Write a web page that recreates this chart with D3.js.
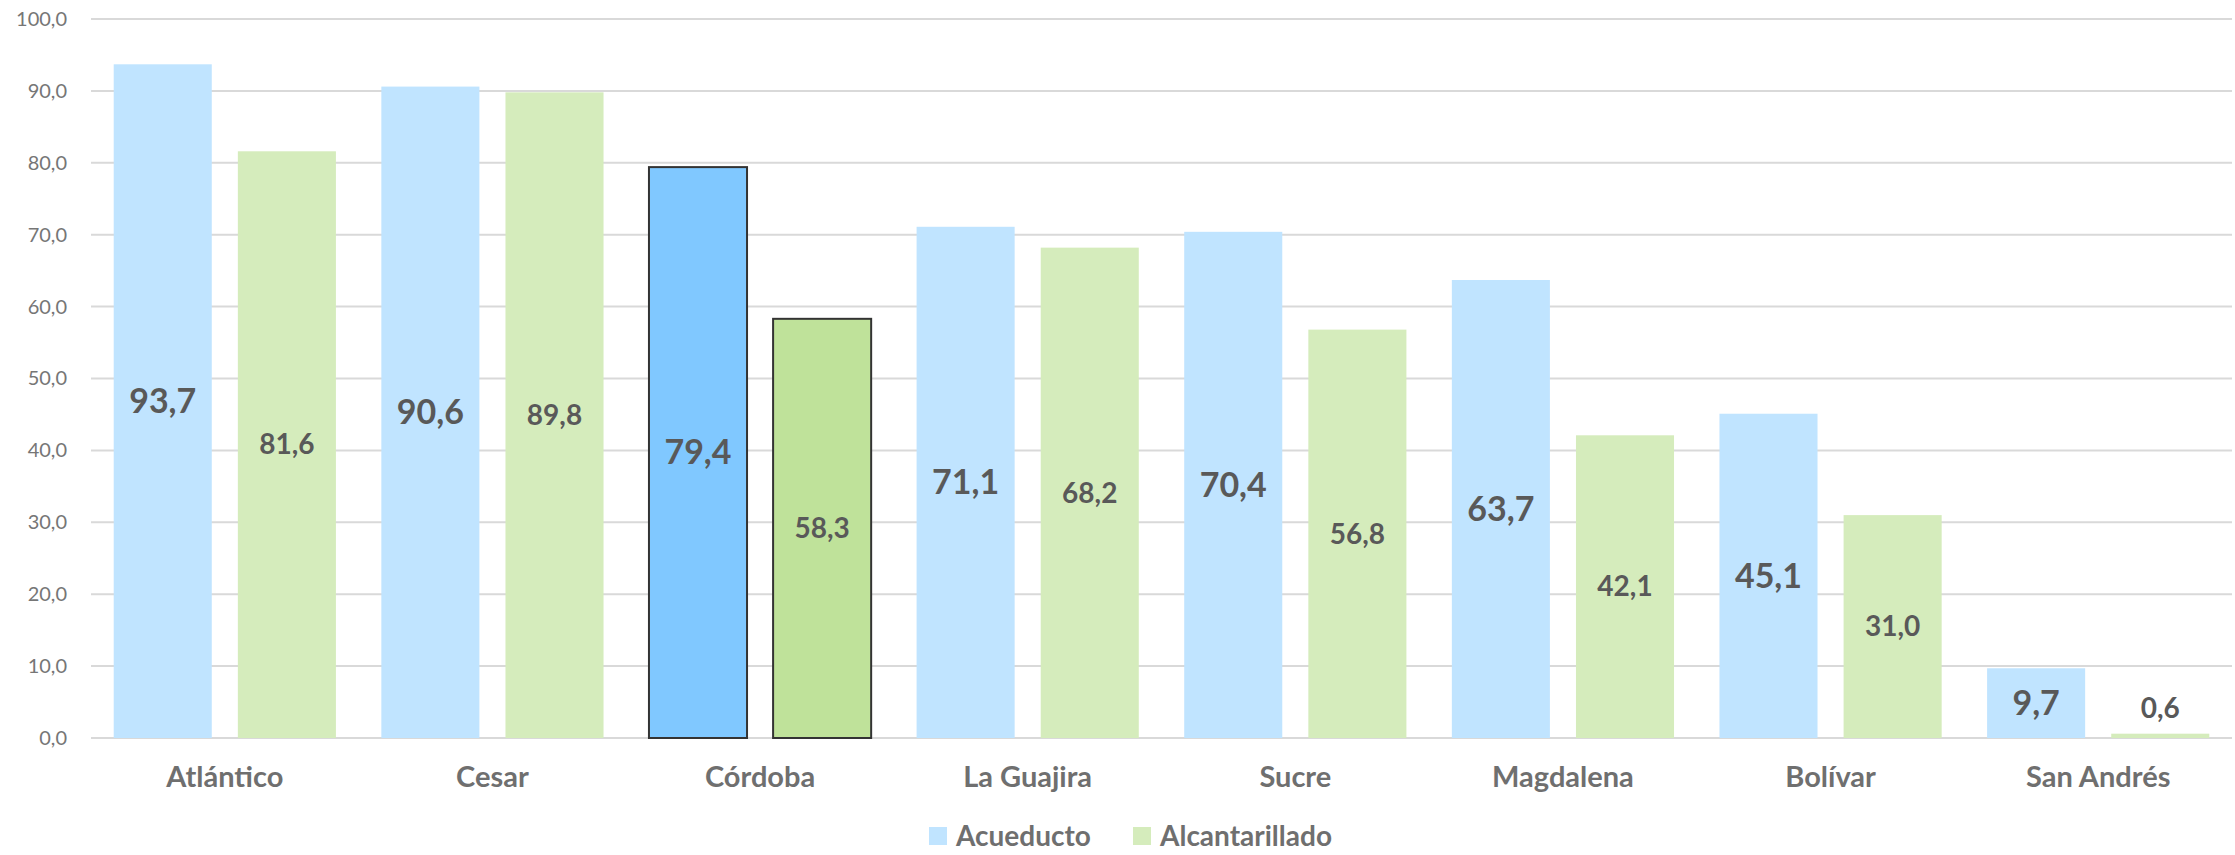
<!DOCTYPE html>
<html>
<head>
    <meta charset="utf-8">
    <script src="https://d3js.org/d3.v7.min.js"></script>
    <style>
        body { margin: 0; background: #fff; }
        text { font-family: Lato, "Open Sans", sans-serif; }
        .grid line { stroke: #d9d9d9; stroke-width: 2px; }
    </style>
</head>
<body>
    <svg width="2235" height="855"></svg>
    <script>
        // data
        var categories = ["Atlántico", "Cesar", "Córdoba", "La Guajira", "Sucre", "Magdalena", "Bolívar", "San Andrés"];
        var series = ["Acueducto", "Alcantarillado"];
        var acueducto = [93.7, 90.6, 79.4, 71.1, 70.4, 63.7, 45.1, 9.7];
        var alcantarillado = [81.6, 89.8, 58.3, 68.2, 56.8, 42.1, 31.0, 0.6];
        var yTicks = [0, 10, 20, 30, 40, 50, 60, 70, 80, 90, 100];
        var highlight = "Córdoba";

        var width = 2235, height = 855;
        var margin = { left: 91, right: 3, top: 19, bottom: 117 };
        var svg = d3.select("svg");

        var colors = { Acueducto: "#c0e4ff", Alcantarillado: "#d5ecbc" };
        var hiColors = { Acueducto: "#80c8ff", Alcantarillado: "#bfe29a" };

        var loc = d3.formatLocale({ decimal: ",", thousands: ".", grouping: [3], currency: ["$", ""] });
        var fmt = loc.format(".1f");

        var x0 = d3.scaleBand()
            .domain(categories)
            .range([margin.left, width - margin.right]);

        var x1 = d3.scaleBand()
            .domain(series)
            .range([0, x0.bandwidth()])
            .paddingInner(0.21)
            .paddingOuter(0.183);

        var y = d3.scaleLinear()
            .domain([0, 100])
            .range([height - margin.bottom, margin.top]);

        // gridlines
        svg.append("g")
            .attr("class", "grid")
            .selectAll("line")
            .data(yTicks)
            .enter().append("line")
            .attr("x1", margin.left)
            .attr("x2", width - margin.right)
            .attr("y1", d => y(d))
            .attr("y2", d => y(d));

        // y axis labels
        var yAxis = svg.append("g")
            .attr("transform", "translate(" + margin.left + ",0)")
            .call(d3.axisLeft(y).tickValues(yTicks).tickFormat(fmt).tickSize(0).tickPadding(24));
        yAxis.select(".domain").remove();
        yAxis.selectAll("text")
            .attr("fill", "#767676")
            .style("font-size", "20px")
            .style("font-family", "Lato, sans-serif");

        // x axis labels
        var xAxis = svg.append("g")
            .attr("transform", "translate(0," + y(0) + ")")
            .call(d3.axisBottom(x0).tickSize(0).tickPadding(28));
        xAxis.select(".domain").remove();
        xAxis.selectAll("text")
            .attr("fill", "#6f6f6f")
            .style("font-size", "29px")
            .style("font-weight", "bold")
            .style("font-family", "Lato, sans-serif");

        var rows = categories.map((c, i) => ({
            cat: c,
            vals: [
                { key: "Acueducto", value: acueducto[i] },
                { key: "Alcantarillado", value: alcantarillado[i] }
            ]
        }));

        var groups = svg.append("g")
            .selectAll("g")
            .data(rows)
            .enter().append("g")
            .attr("transform", d => "translate(" + x0(d.cat) + ",0)");

        groups.selectAll("rect")
            .data(d => d.vals.map(v => Object.assign({ cat: d.cat }, v)))
            .enter().append("rect")
            .attr("x", d => x1(d.key))
            .attr("y", d => y(d.value))
            .attr("width", x1.bandwidth())
            .attr("height", d => y(0) - y(d.value))
            .attr("fill", d => d.cat === highlight ? hiColors[d.key] : colors[d.key])
            .attr("stroke", d => d.cat === highlight ? "#333" : "none")
            .attr("stroke-width", 2);

        // value labels, centered in the bar
        groups.selectAll("text.val")
            .data(d => d.vals.map(v => Object.assign({ cat: d.cat }, v)))
            .enter().append("text")
            .attr("class", "val")
            .attr("x", d => x1(d.key) + x1.bandwidth() / 2)
            .attr("y", d => Math.min((y(d.value) + y(0)) / 2, y(0) - 30))
            .attr("dy", "0.35em")
            .attr("text-anchor", "middle")
            .attr("fill", "#595959")
            .style("font-weight", "bold")
            .style("font-size", d => d.key === "Acueducto" ? "34px" : "28px")
            .text(d => fmt(d.value));

        // legend
        var legend = svg.append("g")
            .attr("transform", "translate(929,834)");
        var legendX = [0, 204];
        var item = legend.selectAll("g")
            .data(series)
            .enter().append("g")
            .attr("transform", (d, i) => "translate(" + legendX[i] + ",0)");
        item.append("rect")
            .attr("x", 0)
            .attr("y", -7)
            .attr("width", 18)
            .attr("height", 18)
            .attr("fill", d => colors[d]);
        item.append("text")
            .attr("x", 27)
            .attr("y", 12)
            .attr("fill", "#6f6f6f")
            .style("font-size", "28px")
            .style("font-weight", "bold")
            .text(d => d);
    </script>
</body>
</html>
